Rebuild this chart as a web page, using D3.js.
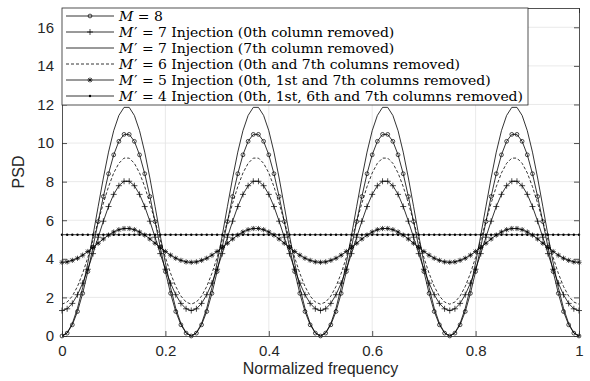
<!DOCTYPE html>
<html>
<head>
<meta charset="utf-8">
<script src="https://cdn.jsdelivr.net/npm/d3@7/dist/d3.min.js"></script>
<style>
  body { margin: 0; background: #fff; }
</style>
</head>
<body>
<div id="grafico"></div>
<script>
// Frequência normalizada (amostras a cada 0.01)
const frequencia = [
  0, 0.01, 0.02, 0.03, 0.04, 0.05, 0.06, 0.07, 0.08, 0.09,
  0.10, 0.11, 0.12, 0.13, 0.14, 0.15, 0.16, 0.17, 0.18, 0.19,
  0.20, 0.21, 0.22, 0.23, 0.24, 0.25, 0.26, 0.27, 0.28, 0.29,
  0.30, 0.31, 0.32, 0.33, 0.34, 0.35, 0.36, 0.37, 0.38, 0.39,
  0.40, 0.41, 0.42, 0.43, 0.44, 0.45, 0.46, 0.47, 0.48, 0.49,
  0.50, 0.51, 0.52, 0.53, 0.54, 0.55, 0.56, 0.57, 0.58, 0.59,
  0.60, 0.61, 0.62, 0.63, 0.64, 0.65, 0.66, 0.67, 0.68, 0.69,
  0.70, 0.71, 0.72, 0.73, 0.74, 0.75, 0.76, 0.77, 0.78, 0.79,
  0.80, 0.81, 0.82, 0.83, 0.84, 0.85, 0.86, 0.87, 0.88, 0.89,
  0.90, 0.91, 0.92, 0.93, 0.94, 0.95, 0.96, 0.97, 0.98, 0.99,
  1.00
]

// M = 8
const psd_m8 = [
  0, 0.15, 0.58, 1.27, 2.21, 3.34, 4.61, 5.93, 7.23, 8.41, 9.39, 10.09, 10.45, 10.45, 10.09, 9.39, 8.41, 7.23, 5.93, 4.61, 3.34, 2.21, 1.27, 0.58, 0.15,
  0, 0.15, 0.58, 1.27, 2.21, 3.34, 4.61, 5.93, 7.23, 8.41, 9.39, 10.09, 10.45, 10.45, 10.09, 9.39, 8.41, 7.23, 5.93, 4.61, 3.34, 2.21, 1.27, 0.58, 0.15,
  0, 0.15, 0.58, 1.27, 2.21, 3.34, 4.61, 5.93, 7.23, 8.41, 9.39, 10.09, 10.45, 10.45, 10.09, 9.39, 8.41, 7.23, 5.93, 4.61, 3.34, 2.21, 1.27, 0.58, 0.15,
  0, 0.15, 0.58, 1.27, 2.21, 3.34, 4.61, 5.93, 7.23, 8.41, 9.39, 10.09, 10.45, 10.45, 10.09, 9.39, 8.41, 7.23, 5.93, 4.61, 3.34, 2.21, 1.27, 0.58, 0.15,
  0
]

// M' = 7 (coluna 0 removida)
const psd_m7_c0 = [
  1.32, 1.41, 1.69, 2.14, 2.74, 3.46, 4.27, 5.12, 5.95, 6.71, 7.34, 7.79, 8.02, 8.02, 7.79, 7.34, 6.71, 5.95, 5.12, 4.27, 3.46, 2.74, 2.14, 1.69, 1.41,
  1.32, 1.41, 1.69, 2.14, 2.74, 3.46, 4.27, 5.12, 5.95, 6.71, 7.34, 7.79, 8.02, 8.02, 7.79, 7.34, 6.71, 5.95, 5.12, 4.27, 3.46, 2.74, 2.14, 1.69, 1.41,
  1.32, 1.41, 1.69, 2.14, 2.74, 3.46, 4.27, 5.12, 5.95, 6.71, 7.34, 7.79, 8.02, 8.02, 7.79, 7.34, 6.71, 5.95, 5.12, 4.27, 3.46, 2.74, 2.14, 1.69, 1.41,
  1.32, 1.41, 1.69, 2.14, 2.74, 3.46, 4.27, 5.12, 5.95, 6.71, 7.34, 7.79, 8.02, 8.02, 7.79, 7.34, 6.71, 5.95, 5.12, 4.27, 3.46, 2.74, 2.14, 1.69, 1.41,
  1.32
]

// M' = 7 (coluna 7 removida)
const psd_m7_c7 = [
  0, 0.17, 0.65, 1.44, 2.51, 3.79, 5.22, 6.72, 8.19, 9.53, 10.64, 11.43, 11.85, 11.85, 11.43, 10.64, 9.53, 8.19, 6.72, 5.22, 3.79, 2.51, 1.44, 0.65, 0.17,
  0, 0.17, 0.65, 1.44, 2.51, 3.79, 5.22, 6.72, 8.19, 9.53, 10.64, 11.43, 11.85, 11.85, 11.43, 10.64, 9.53, 8.19, 6.72, 5.22, 3.79, 2.51, 1.44, 0.65, 0.17,
  0, 0.17, 0.65, 1.44, 2.51, 3.79, 5.22, 6.72, 8.19, 9.53, 10.64, 11.43, 11.85, 11.85, 11.43, 10.64, 9.53, 8.19, 6.72, 5.22, 3.79, 2.51, 1.44, 0.65, 0.17,
  0, 0.17, 0.65, 1.44, 2.51, 3.79, 5.22, 6.72, 8.19, 9.53, 10.64, 11.43, 11.85, 11.85, 11.43, 10.64, 9.53, 8.19, 6.72, 5.22, 3.79, 2.51, 1.44, 0.65, 0.17,
  0
]

// M' = 6
const psd_m6 = [
  1.65, 1.76, 2.07, 2.57, 3.25, 4.07, 4.98, 5.94, 6.88, 7.74, 8.45, 8.95, 9.22, 9.22, 8.95, 8.45, 7.74, 6.88, 5.94, 4.98, 4.07, 3.25, 2.57, 2.07, 1.76,
  1.65, 1.76, 2.07, 2.57, 3.25, 4.07, 4.98, 5.94, 6.88, 7.74, 8.45, 8.95, 9.22, 9.22, 8.95, 8.45, 7.74, 6.88, 5.94, 4.98, 4.07, 3.25, 2.57, 2.07, 1.76,
  1.65, 1.76, 2.07, 2.57, 3.25, 4.07, 4.98, 5.94, 6.88, 7.74, 8.45, 8.95, 9.22, 9.22, 8.95, 8.45, 7.74, 6.88, 5.94, 4.98, 4.07, 3.25, 2.57, 2.07, 1.76,
  1.65, 1.76, 2.07, 2.57, 3.25, 4.07, 4.98, 5.94, 6.88, 7.74, 8.45, 8.95, 9.22, 9.22, 8.95, 8.45, 7.74, 6.88, 5.94, 4.98, 4.07, 3.25, 2.57, 2.07, 1.76,
  1.65
]

// M' = 5
const psd_m5 = [
  3.82, 3.84, 3.92, 4.03, 4.19, 4.38, 4.59, 4.81, 5.03, 5.23, 5.39, 5.51, 5.57, 5.57, 5.51, 5.39, 5.23, 5.03, 4.81, 4.59, 4.38, 4.19, 4.03, 3.92, 3.84,
  3.82, 3.84, 3.92, 4.03, 4.19, 4.38, 4.59, 4.81, 5.03, 5.23, 5.39, 5.51, 5.57, 5.57, 5.51, 5.39, 5.23, 5.03, 4.81, 4.59, 4.38, 4.19, 4.03, 3.92, 3.84,
  3.82, 3.84, 3.92, 4.03, 4.19, 4.38, 4.59, 4.81, 5.03, 5.23, 5.39, 5.51, 5.57, 5.57, 5.51, 5.39, 5.23, 5.03, 4.81, 4.59, 4.38, 4.19, 4.03, 3.92, 3.84,
  3.82, 3.84, 3.92, 4.03, 4.19, 4.38, 4.59, 4.81, 5.03, 5.23, 5.39, 5.51, 5.57, 5.57, 5.51, 5.39, 5.23, 5.03, 4.81, 4.59, 4.38, 4.19, 4.03, 3.92, 3.84,
  3.82
]

// M' = 4 (plano)
const psd_m4 = [
  5.25, 5.25, 5.25, 5.25, 5.25, 5.25, 5.25, 5.25, 5.25, 5.25, 5.25, 5.25, 5.25, 5.25, 5.25, 5.25, 5.25, 5.25, 5.25, 5.25, 5.25, 5.25, 5.25, 5.25, 5.25,
  5.25, 5.25, 5.25, 5.25, 5.25, 5.25, 5.25, 5.25, 5.25, 5.25, 5.25, 5.25, 5.25, 5.25, 5.25, 5.25, 5.25, 5.25, 5.25, 5.25, 5.25, 5.25, 5.25, 5.25, 5.25,
  5.25, 5.25, 5.25, 5.25, 5.25, 5.25, 5.25, 5.25, 5.25, 5.25, 5.25, 5.25, 5.25, 5.25, 5.25, 5.25, 5.25, 5.25, 5.25, 5.25, 5.25, 5.25, 5.25, 5.25, 5.25,
  5.25, 5.25, 5.25, 5.25, 5.25, 5.25, 5.25, 5.25, 5.25, 5.25, 5.25, 5.25, 5.25, 5.25, 5.25, 5.25, 5.25, 5.25, 5.25, 5.25, 5.25, 5.25, 5.25, 5.25, 5.25,
  5.25
]

// Textos da legenda: [nome, linha (prime), valor, descrição]
const legendas = [
  ["M", "", "8", ""],
  ["M", "\u2032", "7", " Injection (0th column removed)"],
  ["M", "\u2032", "7", " Injection (7th column removed)"],
  ["M", "\u2032", "6", " Injection (0th and 7th columns removed)"],
  ["M", "\u2032", "5", " Injection (0th, 1st and 7th columns removed)"],
  ["M", "\u2032", "4", " Injection (0th, 1st, 6th and 7th columns removed)"]
]

const ticks_x = [0, 0.2, 0.4, 0.6, 0.8, 1]
const ticks_y = [0, 2, 4, 6, 8, 10, 12, 14, 16]

// Séries: dados, marcador, tracejado
const series = [
  { dados: psd_m8, marcador: "o", traco: null },
  { dados: psd_m7_c0, marcador: "+", traco: null },
  { dados: psd_m7_c7, marcador: null, traco: null },
  { dados: psd_m6, marcador: null, traco: "3,2" },
  { dados: psd_m5, marcador: "*", traco: null },
  { dados: psd_m4, marcador: ".", traco: null }
]

// Configurações do gráfico
let margin = { top: 8, right: 11, bottom: 45, left: 62 };
let width = 590 - margin.left - margin.right;
let height = 381 - margin.top - margin.bottom;

const cor_eixo = "#262626"
const cor_grade = "#e3e3e3"

let svg = d3.select("#grafico").append("svg")
  .attr("width", width + margin.left + margin.right)
  .attr("height", height + margin.top + margin.bottom)
  .append("g")
  .attr("transform", `translate(${margin.left}, ${margin.top})`)

let x = d3.scaleLinear().domain([0, 1]).range([0, width])
let y = d3.scaleLinear().domain([0, 17]).range([height, 0])

// Grade
svg.append("g").selectAll("line").data(ticks_x.slice(1, -1)).join("line")
  .attr("x1", d => x(d)).attr("x2", d => x(d))
  .attr("y1", 0).attr("y2", height)
  .attr("stroke", cor_grade).attr("stroke-width", 0.8)

svg.append("g").selectAll("line").data(ticks_y.slice(1)).join("line")
  .attr("x1", 0).attr("x2", width)
  .attr("y1", d => y(d)).attr("y2", d => y(d))
  .attr("stroke", cor_grade).attr("stroke-width", 0.8)

// Desenha um marcador
function marcador(g, tipo, cx, cy) {
  if (tipo === "o") {
    g.append("circle").attr("cx", cx).attr("cy", cy).attr("r", 1.9)
      .attr("fill", "none").attr("stroke", "#000").attr("stroke-width", 0.7)
  } else if (tipo === "+") {
    g.append("path").attr("d", `M${cx - 3},${cy}H${cx + 3}M${cx},${cy - 3}V${cy + 3}`)
      .attr("stroke", "#000").attr("stroke-width", 0.7)
  } else if (tipo === "*") {
    const r = 2.6, s = 1.9
    g.append("path")
      .attr("d", `M${cx - r},${cy}H${cx + r}M${cx},${cy - r}V${cy + r}M${cx - s},${cy - s}L${cx + s},${cy + s}M${cx - s},${cy + s}L${cx + s},${cy - s}`)
      .attr("stroke", "#000").attr("stroke-width", 0.7)
  } else if (tipo === ".") {
    g.append("circle").attr("cx", cx).attr("cy", cy).attr("r", 1.2).attr("fill", "#000")
  }
}

let linha = d3.line()
  .x((d, i) => x(frequencia[i]))
  .y(d => y(d))

let area_curvas = svg.append("g")

series.forEach(s => {
  area_curvas.append("path")
    .datum(s.dados)
    .attr("d", linha)
    .attr("fill", "none")
    .attr("stroke", "#000")
    .attr("stroke-width", 0.8)
    .attr("stroke-dasharray", s.traco)

  if (s.marcador) {
    let gm = area_curvas.append("g")
    s.dados.forEach((v, i) => marcador(gm, s.marcador, x(frequencia[i]), y(v)))
  }
})

// Eixos (ticks para dentro, estilo MATLAB)
const fonte_eixo = "'Liberation Sans', Arial, sans-serif"

svg.append("g")
  .attr("transform", `translate(0, ${height})`)
  .call(d3.axisBottom(x).tickValues(ticks_x).tickFormat(d => String(d))
    .tickSizeInner(-5).tickSizeOuter(0).tickPadding(9))

svg.append("g")
  .call(d3.axisLeft(y).tickValues(ticks_y).tickFormat(d => String(d))
    .tickSizeInner(-5).tickSizeOuter(0).tickPadding(8))

svg.append("g")
  .call(d3.axisTop(x).tickValues(ticks_x).tickFormat("").tickSizeInner(-5).tickSizeOuter(0))

svg.append("g")
  .attr("transform", `translate(${width}, 0)`)
  .call(d3.axisRight(y).tickValues(ticks_y).tickFormat("").tickSizeInner(-5).tickSizeOuter(0))

svg.selectAll(".domain, .tick line").attr("stroke", cor_eixo).attr("stroke-width", 0.8)
svg.selectAll(".tick text")
  .attr("fill", cor_eixo)
  .style("font-family", fonte_eixo)
  .style("font-size", "15px")

// Títulos dos eixos
svg.append("text")
  .attr("x", width / 2)
  .attr("y", height + 38)
  .attr("fill", cor_eixo)
  .style("font-family", fonte_eixo)
  .style("font-size", "16px")
  .style("text-anchor", "middle")
  .text("Normalized frequency")

svg.append("text")
  .attr("transform", "rotate(-90)")
  .attr("x", -height / 2)
  .attr("y", -38)
  .attr("fill", cor_eixo)
  .style("font-family", fonte_eixo)
  .style("font-size", "16px")
  .style("text-anchor", "middle")
  .text("PSD")

// Legenda
const leg_largura = 466
const leg_altura = 97
const leg_linha = 16

let leg = svg.append("g")

leg.append("rect")
  .attr("x", 0).attr("y", 0)
  .attr("width", leg_largura).attr("height", leg_altura)
  .attr("fill", "#fff")
  .attr("stroke", cor_eixo).attr("stroke-width", 0.8)

let textos = []
legendas.forEach((l, i) => {
  const cy = 8 + i * leg_linha
  const s = series[i]

  leg.append("line")
    .attr("x1", 4).attr("x2", 52)
    .attr("y1", cy).attr("y2", cy)
    .attr("stroke", "#000").attr("stroke-width", 0.8)
    .attr("stroke-dasharray", s.traco)

  if (s.marcador) marcador(leg, s.marcador, 28, cy)

  let t = leg.append("text")
    .attr("x", 57)
    .attr("y", cy + 5)
    .style("font-family", "'DejaVu Serif', 'Liberation Serif', serif")
    .style("font-size", "13.5px")
    .attr("fill", "#000")

  t.append("tspan").style("font-style", "italic").text(l[0])
  if (l[1]) t.append("tspan").attr("dx", 1).text(l[1])
  t.append("tspan").text(" = " + l[2] + l[3])
  textos.push(t)
})

// Ajuste horizontal do texto (largura parecida com a fonte do LaTeX)
const maior = d3.max(textos, t => t.node().getComputedTextLength())
const fator = (leg_largura - 57 - 5) / maior
textos.forEach(t => {
  const comp = t.node().getComputedTextLength()
  t.attr("textLength", comp * fator).attr("lengthAdjust", "spacingAndGlyphs")
})
</script>
</body>
</html>
